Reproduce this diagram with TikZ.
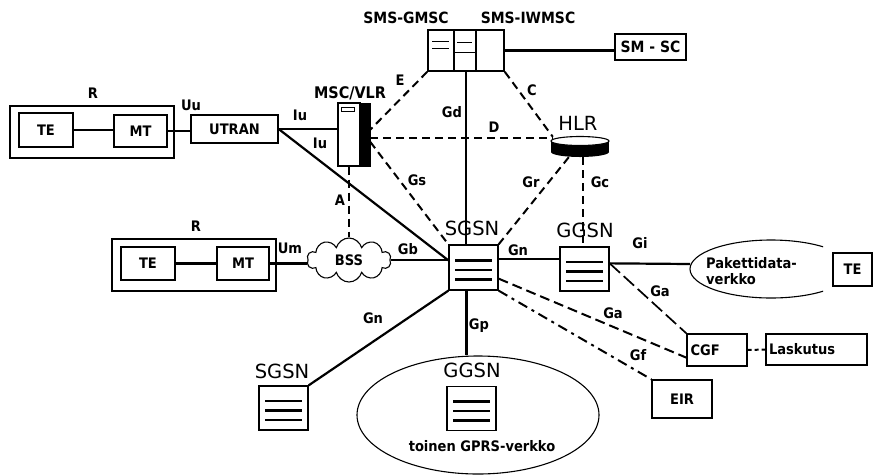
\documentclass[tikz,border=0pt]{standalone}
\usepackage{fontspec}
\setmainfont{DejaVu Sans}
\newfontfamily\lblfont{DejaVu Sans Condensed}
\usetikzlibrary{calc,shapes.symbols,shapes.geometric}
\begin{document}
\begin{tikzpicture}[x=1pt,y=-1pt,
  lbl/.style={font=\lblfont\bfseries\fontsize{14.5}{16}\selectfont, inner sep=0pt},
  big/.style={font=\fontsize{19.5}{22}\selectfont, inner sep=0pt},
  box/.style={draw, line width=1.3pt, inner sep=0pt, font=\lblfont\bfseries\fontsize{14.5}{16}\selectfont},
  conn/.style={line width=2.2pt},
  dconn/.style={line width=2pt, dash pattern=on 8pt off 5pt},
  gsnbox/.style={box, minimum width=49pt, minimum height=44pt, path picture={
     \foreach \dy in {-7,2.5,12}{\draw[line width=2.2pt] ($(path picture bounding box.center)+(-18.5,\dy)$) -- ++(37,0);}}},
]
\fill[white] (0,0) rectangle (876,475);
\useasboundingbox (0,0) rectangle (876,475);

% ---- top R terminal ----
\node[box, minimum width=164pt, minimum height=52pt] (r1) at (92,132) {};
\node[box, minimum width=54pt, minimum height=34pt] (te1) at (46,130) {TE};
\node[box, minimum width=53pt, minimum height=32pt] (mt1) at (140.5,131) {MT};
\node[lbl] (r1l) at (93,93) {R};
\node[box, minimum width=87pt, minimum height=28pt] (utran) at (234.5,129) {UTRAN};
\node[lbl] (uul) at (191,105) {Uu};

% ---- MSC/VLR ----
\node[draw, line width=1.3pt, minimum width=22pt, minimum height=63pt, inner sep=0pt, fill=white] (msc) at (349,134.5) {};
\node[draw, fill=black, minimum width=10pt, minimum height=63pt, inner sep=0pt] (mscbar) at (365,134.5) {};
\draw[line width=1.1pt] ($(msc.north west)+(4,5)$) rectangle ($(msc.north west)+(17,9)$);
\node[lbl, font=\lblfont\bfseries\fontsize{16}{18}\selectfont] (mscl) at (350,93) {MSC/VLR};

% ---- SMS GMSC/IWMSC ----
\node[draw, line width=1.6pt, minimum width=76pt, minimum height=41pt, inner sep=0pt] (sms) at (466,50.5) {};
\draw[line width=2.2pt] ($(sms.north west)+(27,0)$) -- ($(sms.south west)+(27,0)$);
\draw[line width=2.2pt] ($(sms.north west)+(49,0)$) -- ($(sms.south west)+(49,0)$);
\draw[line width=1.3pt] ($(sms.north west)+(5,12)$) -- ++(17,0);
\draw[line width=1.3pt] ($(sms.north west)+(5,19)$) -- ++(17,0);
\draw[line width=1.3pt] ($(sms.north west)+(30,13)$) -- ++(15,0);
\draw[line width=1.3pt] ($(sms.north west)+(27,23)$) -- ++(22,0);
\node[lbl, font=\lblfont\bfseries\fontsize{15.5}{18}\selectfont] (gmscl) at (406,18) {SMS-GMSC};
\node[lbl, font=\lblfont\bfseries\fontsize{15.5}{18}\selectfont] (iwmscl) at (528,18) {SMS-IWMSC};
\node[box, minimum width=71pt, minimum height=26pt, font=\lblfont\bfseries\fontsize{15.5}{18}\selectfont] (smssc) at (650.5,47) {SM - SC};

% ---- HLR ----
\node[minimum width=58pt, minimum height=21pt, inner sep=0pt] (hlr) at (580,146.5) {};
\fill[black] (551,141) rectangle (609,152);
\fill[black] (580,152) ellipse [x radius=29pt, y radius=5pt];
\filldraw[fill=white, draw=black, line width=1.1pt] (580,141) ellipse [x radius=29pt, y radius=4.5pt];
\node[big] (hlrl) at (578,123) {HLR};

% ---- SGSN / GGSN ----
\node[gsnbox, minimum height=45pt] (sgsn) at (473.5,267.5) {};
\node[big] (sgsnl) at (472,228) {SGSN};
\node[gsnbox] (ggsn1) at (584.5,269) {};
\node[big] (ggsn1l) at (585,230) {GGSN};

% ---- Pakettidata network ----
\begin{scope}
\clip (650,200) rectangle (823,330);
\draw[line width=1.1pt] (771,269) ellipse [x radius=81pt, y radius=29pt];
\end{scope}
\coordinate (paketw) at (690,264);
\node[lbl, align=left, anchor=west] (paket) at (706,271) {Pakettidata-\\verkko};
\node[box, minimum width=39pt, minimum height=33pt] (te2) at (852.5,269.5) {TE};

% ---- CGF, Laskutus, EIR ----
\node[box, minimum width=60pt, minimum height=32pt, text width=53pt, align=left] (cgf) at (717,350) {CGF};
\node[box, minimum width=101pt, minimum height=31pt, text width=95pt, align=left] (lask) at (816.5,349.5) {Laskutus};
\node[box, minimum width=60pt, minimum height=38pt] (eir) at (682,399) {EIR};

% ---- other GPRS network ----
\node[draw, ellipse, line width=1.1pt, minimum width=242pt, minimum height=118pt, inner sep=0pt] (net2) at (478,415) {};
\node[gsnbox] (ggsn2) at (471.5,408.5) {};
\node[big] (ggsn2l) at (472,370) {GGSN};
\node[lbl] (net2l) at (482,446) {toinen GPRS-verkko};
\node[gsnbox] (sgsn2) at (283.5,408) {};
\node[big] (sgsn2l) at (282,371) {SGSN};

% ---- bottom R terminal ----
\node[box, minimum width=164pt, minimum height=52pt] (r2) at (194,265) {};
\node[box, minimum width=54pt, minimum height=33pt] (te3) at (148,263.5) {TE};
\node[box, minimum width=52pt, minimum height=33pt] (mt3) at (243,263.5) {MT};
\node[lbl] (r2l) at (196,226) {R};
\node[lbl] (uml) at (290,248) {Um};
\node[cloud, draw, line width=1.1pt, cloud puffs=10, aspect=2, minimum width=84pt, minimum height=44pt, inner sep=0pt, font=\lblfont\bfseries\fontsize{14.5}{16}\selectfont] (bss) at (349,260) {BSS};

% ---- helper coordinates ----
\coordinate (mE) at ($(mscbar.north east)+(0,27)$);
\coordinate (mD) at ($(mscbar.north east)+(0,35)$);
\coordinate (mS) at ($(mscbar.north east)+(0,39)$);
\coordinate (hC) at ($(hlr.north west)+(2,1)$);
\coordinate (hGr) at ($(hlr.south west)+(18,0)$);
\coordinate (hGc) at ($(hlr.south)+(3,0)$);
\coordinate (gdx) at ($(sms.south west)+(39,0)$);
\coordinate (gpx) at ($(sgsn.south)+(-7,0)$);
\coordinate (sgW) at ($(sgsn.north west)+(0,16)$);
\coordinate (sgE) at ($(sgsn.north east)+(0,15)$);
\coordinate (ggE) at ($(ggsn1.north east)+(0,17)$);

% ---- connectors ----
\draw[conn] (te1.east) -- (te1.east -| mt1.west);
\draw[conn] (mt1.east) -- (mt1.east -| utran.west);
\draw[conn] (utran.east) -- (utran.east -| msc.west);
\draw[conn] (utran.east) -- (sgW);
\draw[conn] (te3.east) -- (te3.east -| mt3.west);
\draw[conn] (mt3.east) -- (mt3.east -| bss.west);
\draw[conn] (bss.east) -- (bss.east -| sgsn.west);
\draw[dconn] (msc.south) -- (msc.south |- bss.north);
\draw[conn] (sms.east) -- (sms.east -| smssc.west);
\draw[conn] (gdx) -- (gdx |- sgsn.north);
\draw[dconn] (sms.south west) -- (mE);
\draw[dconn] (sms.south east) -- (hC);
\draw[dconn] (mD) -- (mD -| hC);
\draw[dconn] (mS) -- (sgsn.north west);
\draw[dconn] (hGr) -- (sgsn.north east);
\draw[dconn] (hGc) -- (hGc |- ggsn1.north);
\draw[conn] (sgE) -- (sgE -| ggsn1.west);
\draw[conn] (ggE) -- (paketw);
\draw[line width=1.7pt, dash pattern=on 14pt off 5pt] (ggE) -- (cgf.north west);
\draw[line width=2pt, dash pattern=on 10pt off 5pt] ($(sgsn.south east)+(0,-12)$) -- ($(cgf.south west)+(0,-9)$);
\draw[line width=2pt, dash pattern=on 10pt off 5pt on 3pt off 5pt] (sgsn.south east) -- (eir.north west);
\draw[line width=2pt, dash pattern=on 4pt off 3pt] (cgf.east) -- (lask.west);
\draw[conn] (gpx) -- (gpx |- net2.north);
\draw[conn] (sgsn2.north east) -- (sgsn.south west);

% ---- interface labels ----
\node[lbl] (lE) at (400,80) {E};
\node[lbl] (lC) at (532,90) {C};
\node[lbl] (lGd) at (452,112) {Gd};
\node[lbl] (lD) at (494,127) {D};
\node[lbl] (lGs) at (417,180) {Gs};
\node[lbl] (lGr) at (531,182) {Gr};
\node[lbl] (lGc) at (600,182) {Gc};
\node[lbl] (lA) at (340,200) {A};
\node[lbl] (lIu1) at (300,115) {Iu};
\node[lbl] (lIu2) at (320,143) {Iu};
\node[lbl] (lGb) at (408,249) {Gb};
\node[lbl] (lGn1) at (518,250) {Gn};
\node[lbl] (lGi) at (640,243) {Gi};
\node[lbl] (lGa1) at (660,291) {Ga};
\node[lbl] (lGa2) at (613,313) {Ga};
\node[lbl] (lGf) at (638,355) {Gf};
\node[lbl] (lGp) at (479,326) {Gp};
\node[lbl] (lGn2) at (373,318) {Gn};
\end{tikzpicture}
\end{document}
